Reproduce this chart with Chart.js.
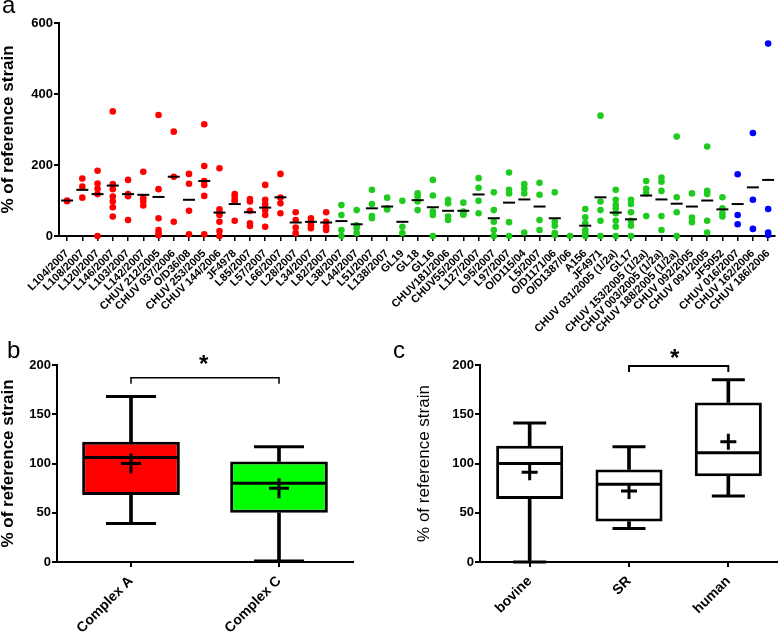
<!DOCTYPE html>
<html>
<head>
<meta charset="utf-8">
<script src="https://cdn.jsdelivr.net/npm/chart.js@4.4.1/dist/chart.umd.min.js"></script>
<style>
  body { margin: 0; background: #fff; }
  #page { position: relative; width: 778px; height: 636px; overflow: hidden; font-family: "Liberation Sans", Arial, sans-serif; color: #000; }
  canvas { position: absolute; }
  .letter { position: absolute; font-size: 24px; line-height: 1; }
  .star { position: absolute; font-size: 24px; font-weight: bold; line-height: 1; }
</style>
</head>
<body>
<div id="page">
  <canvas id="chartA" width="778" height="345" style="left:0px;top:0px"></canvas>
  <canvas id="chartB" width="380" height="296" style="left:0px;top:340px"></canvas>
  <canvas id="chartC" width="398" height="296" style="left:380px;top:340px"></canvas>
  <div class="letter" style="left:2px;top:-7px">a</div>
  <div class="letter" style="left:7px;top:338px">b</div>
  <div class="letter" style="left:393px;top:338px">c</div>
  <div class="star" style="left:199px;top:352px">*</div>
  <div class="star" style="left:670px;top:346px">*</div>
</div>
<script>
// panel a: one column per strain
const strainLabels = [
  "L104/2007", "L108/2007", "L120/2007", "L146/2007", "L103/2007", "L142/2007",
  "CHUV 212/2005", "CHUV 037/2006", "O/D36/08", "CHUV 253/2005", "CHUV 144/2006", "JF4978",
  "L85/2007", "L57/2007", "L66/2007", "L28/2007", "L34/2007", "L82/2007",
  "L38/2007", "L44/2007", "L51/2007", "L138/2007", "GL19", "GL18", "GL16",
  "CHUV181/2006", "CHUV55/2007", "L127/2007", "L95/2007", "L97/2007", "O/D115/04",
  "L5/2007", "O/D1171/06", "O/D1387/06", "A156", "JF4971", "CHUV 031/2005 (1/2a)",
  "GL17", "CHUV 153/2005 (1/2a)", "CHUV 003/2005 (1/2a)", "CHUV 188/2005 (1/2a)",
  "CHUV 092/2005", "CHUV 091/2005", "JF5052", "CHUV 016/2007", "CHUV 162/2006", "CHUV 186/2006"
];
// A = complex A (red), C = complex C (green), X = others (blue)
const strainComplex = "AAAAAAAAAAAAAAAAAACCCCCCCCCCCCCCCCCCCCCCCCCCXXX".split("");
const strainValues = [
  [100, 98], [162, 139, 108], [184, 148, 133, 118, 0], [351, 146, 132, 111, 97, 81, 55],
  [158, 118, 112, 45], [181, 106, 97, 86], [341, 132, 50, 17, 8, 2], [294, 167, 40],
  [175, 147, 71, 5], [315, 197, 155, 144, 113, 5], [191, 75, 65, 59, 40, 14, 0],
  [118, 111, 102, 97, 43], [104, 97, 71, 36, 28], [144, 102, 89, 73, 59, 26],
  [175, 108, 92, 64], [67, 45, 24, 8], [50, 38, 30, 22], [67, 40, 26, 17],
  [87, 59, 17, 0], [73, 30, 22, 8], [130, 90, 56, 50], [108, 78, 75], [99, 26, 8],
  [120, 111, 97, 73], [158, 114, 69, 59, 0], [102, 92, 55, 45], [94, 69, 64, 60],
  [163, 136, 99, 64], [123, 73, 40, 17, 0], [179, 130, 120, 39, 0], [146, 134, 120, 10],
  [150, 116, 45, 17], [123, 40, 29, 8, 3], [0], [76, 53, 36, 17, 8, 0],
  [339, 97, 73, 43, 0], [130, 102, 87, 78, 64, 43, 26, 0], [102, 90, 67, 43, 29, 0],
  [155, 133, 120, 56], [165, 153, 127, 56, 17], [280, 109, 67, 0], [120, 52, 39],
  [252, 127, 118, 43, 10], [109, 78, 64, 55], [174, 59, 33], [290, 102, 20], [542, 76, 10, 3]
];
const strainMeans = [
  100, 130, 118, 142, 118, 116, 110, 167, 102, 155, 66, 90, 67, 80, 109, 38, 40, 38,
  42, 33, 78, 83, 40, 101, 81, 71, 71, 117, 50, 94, 103, 83, 50, null, 29, 109, 66, 47,
  114, 103, 91, 83, 100, 75, 90, 137, 158
];

// panel b: box plots per complex
const complexLabels = ["Complex A", "Complex C"];
const complexLow = [39, 1];
const complexQ1 = [68, 50];
const complexMedian = [106, 80];
const complexQ3 = [122, 102];
const complexHigh = [168, 117];
const complexMean = [100, 75];
const complexFill = ["#ff0000", "#00ff00"];
const complexSignif = ["Complex A", "Complex C", 187, 181];

// panel c: box plots per host
const hostLabels = ["bovine", "SR", "human"];
const hostLow = [0, 34, 67];
const hostQ1 = [64, 41, 87];
const hostMedian = [100, 79, 111];
const hostQ3 = [118, 94, 162];
const hostHigh = [141, 117, 185];
const hostMean = [91, 72, 122];
const hostFill = ["#ffffff", "#ffffff", "#ffffff"];
const hostSignif = ["SR", "human", 199, 193];

const font = "'Liberation Sans', Arial, sans-serif";
Chart.defaults.font.family = font;
Chart.defaults.color = "#000";
Chart.defaults.animation = false;
Chart.defaults.plugins.legend.display = false;
Chart.defaults.plugins.tooltip.enabled = false;

const colourFor = { A: "#ff0000", C: "#1ecb1e", X: "#0000ff" };
const black = "#000";

const dots = [];
const dotColours = [];
strainValues.forEach((vals, i) => vals.forEach(v => {
  dots.push({ x: i, y: v });
  dotColours.push(colourFor[strainComplex[i]]);
}));

// keep rotated tick labels from squeezing the plot area
const noLabelPadding = s => { s.paddingLeft = 0; s.paddingRight = 0; };

new Chart(document.getElementById("chartA"), {
  type: "scatter",
  data: {
    datasets: [{
      data: strainMeans.map((m, i) => ({ x: i, y: m })),
      pointStyle: "line", pointRadius: 6, pointBorderWidth: 2, pointBorderColor: black,
      clip: false, order: 0
    }, {
      data: dots,
      pointRadius: 3.3, pointBorderWidth: 0, pointBackgroundColor: dotColours,
      clip: false, order: 1
    }]
  },
  options: {
    responsive: false,
    layout: { autoPadding: false, padding: { top: 23, right: 3, left: 0, bottom: 0 } },
    scales: {
      x: {
        type: "linear", min: -0.53, max: 46.45,
        afterBuildTicks: s => { s.ticks = strainLabels.map((_, i) => ({ value: i })); },
        afterFit: s => { s.height = 109; noLabelPadding(s); },
        ticks: {
          callback: v => strainLabels[v], autoSkip: false, minRotation: 45, maxRotation: 45,
          padding: 6, font: { size: 11, weight: "bold" }
        },
        grid: { drawOnChartArea: false, tickLength: 5, color: black, lineWidth: 1.5 },
        border: { color: black, width: 2 }
      },
      y: {
        min: 0, max: 600,
        afterFit: s => { s.width = 59; },
        ticks: { stepSize: 200, padding: 1, font: { size: 13, weight: "bold" } },
        grid: { drawOnChartArea: false, tickLength: 5, color: black, lineWidth: 2 },
        border: { color: black, width: 2 },
        title: { display: true, text: "% of reference strain", padding: 0,
          font: { size: 17, weight: "bold", lineHeight: 1 } }
      }
    }
  }
});

function boxDatasets(low, q1, median, q3, high, mean, fill, signif, sizes) {
  const point = (data, style, radius) => ({
    type: "line", data, showLine: false, pointStyle: style, pointRadius: radius,
    pointBorderWidth: 3, pointBorderColor: black, pointBackgroundColor: black, clip: false, order: 0
  });
  return [
    { type: "bar", data: q1.map((v, i) => [v, q3[i]]), backgroundColor: fill, borderColor: black,
      borderWidth: 3, borderSkipped: false, barPercentage: sizes.box, categoryPercentage: 1,
      grouped: false, order: 2 },
    { type: "bar", data: low.map((v, i) => [v, q1[i]]), backgroundColor: black,
      barThickness: 3, grouped: false, order: 3 },
    { type: "bar", data: q3.map((v, i) => [v, high[i]]), backgroundColor: black,
      barThickness: 3, grouped: false, order: 3 },
    point(median, "line", sizes.median),
    point(low, "line", sizes.cap),
    point(high, "line", sizes.cap),
    point(mean, "cross", sizes.cross),
    { type: "line", borderColor: black, borderWidth: sizes.bracket, pointRadius: 0, clip: false,
      data: [
        { x: signif[0], y: signif[3] }, { x: signif[0], y: signif[2] },
        { x: signif[1], y: signif[2] }, { x: signif[1], y: signif[3] }
      ], order: 0 }
  ];
}

function boxOptions(yWidth, rightPad, titleWeight, titlePad) {
  return {
    responsive: false,
    layout: { autoPadding: false, padding: { top: 25, right: rightPad, left: 0, bottom: 0 } },
    scales: {
      x: {
        offset: true,
        afterFit: s => { s.height = 74; noLabelPadding(s); },
        ticks: { minRotation: 45, maxRotation: 45, padding: 6, font: { size: 14, weight: "bold" } },
        grid: { offset: false, drawOnChartArea: false, tickLength: 5, color: black, lineWidth: 2 },
        border: { color: black, width: 2 }
      },
      y: {
        min: 0, max: 200,
        afterFit: s => { s.width = yWidth; },
        ticks: { stepSize: 50, padding: 1, font: { size: 13, weight: "bold" } },
        grid: { drawOnChartArea: false, tickLength: 5, color: black, lineWidth: 2 },
        border: { color: black, width: 2 },
        title: { display: true, text: "% of reference strain", padding: { top: titlePad, bottom: 0 },
          font: { size: 17, weight: titleWeight, lineHeight: 1 } }
      }
    }
  };
}

new Chart(document.getElementById("chartB"), {
  type: "bar",
  data: {
    labels: complexLabels,
    datasets: boxDatasets(complexLow, complexQ1, complexMedian, complexQ3, complexHigh, complexMean,
      complexFill, complexSignif, { box: 0.66, median: 47, cap: 25, cross: 10, bracket: 1.5 })
  },
  options: boxOptions(57, 27, "bold", 0)
});

new Chart(document.getElementById("chartC"), {
  type: "bar",
  data: {
    labels: hostLabels,
    datasets: boxDatasets(hostLow, hostQ1, hostMedian, hostQ3, hostHigh, hostMean,
      hostFill, hostSignif, { box: 0.675, median: 32, cap: 16.5, cross: 8, bracket: 2 })
  },
  options: boxOptions(100, 0, "normal", 36)
});
</script>
</body>
</html>
